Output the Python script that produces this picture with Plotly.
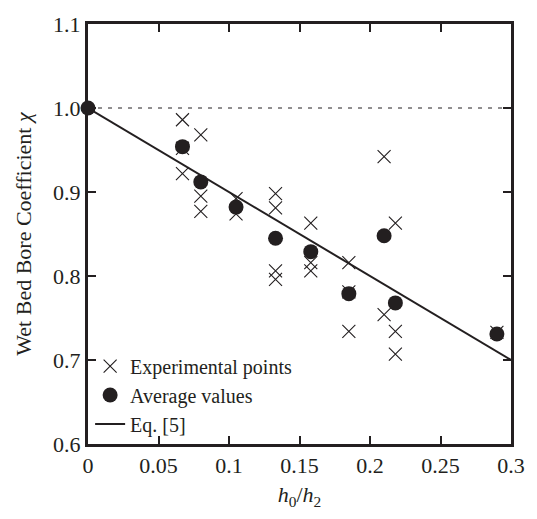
import plotly.graph_objects as go

# Experimental wet-bed bore coefficients grouped by h0/h2
x_exp = [0.067, 0.067, 0.067,
         0.080, 0.080, 0.080,
         0.105, 0.105,
         0.133, 0.133, 0.133, 0.133,
         0.158, 0.158, 0.158,
         0.185, 0.185, 0.185,
         0.210, 0.210,
         0.218, 0.218, 0.218,
         0.290]
chi_exp = [0.986, 0.952, 0.922,
           0.968, 0.895, 0.877,
           0.892, 0.874,
           0.898, 0.881, 0.806, 0.796,
           0.863, 0.816, 0.806,
           0.816, 0.781, 0.734,
           0.942, 0.754,
           0.863, 0.734, 0.707,
           0.733]

# Averages per group
x_avg = [0.0, 0.067, 0.080, 0.105, 0.133, 0.158, 0.185, 0.210, 0.218, 0.290]
chi_avg = [1.0, 0.954, 0.912, 0.882, 0.845, 0.829, 0.779, 0.848, 0.768, 0.731]

# Eq. [5]: chi = 1 - h0/h2
x_eq = [0.0, 0.3]
chi_eq = [1.0, 0.7]

x_ticks = [0, 0.05, 0.1, 0.15, 0.2, 0.25, 0.3]
y_ticks = [0.6, 0.7, 0.8, 0.9, 1.0, 1.1]

ink = "#231f20"
font = "Liberation Serif, Times New Roman, serif"

fig = go.Figure()

# reference level chi = 1
fig.add_trace(go.Scatter(
    x=[0, 0.3], y=[1.0, 1.0], mode="lines",
    line=dict(color=ink, width=1, dash="4px,6px"),
    showlegend=False, hoverinfo="skip"))

fig.add_trace(go.Scatter(
    x=x_exp, y=chi_exp, mode="markers", name="Experimental points",
    marker=dict(symbol="x-thin-open", size=13, color=ink,
                line=dict(color=ink, width=1.1))))

fig.add_trace(go.Scatter(
    x=x_avg, y=chi_avg, mode="markers", name="Average values",
    marker=dict(symbol="circle", size=15, color=ink, line=dict(width=0)),
    cliponaxis=False))

fig.add_trace(go.Scatter(
    x=x_eq, y=chi_eq, mode="lines", name="Eq. [5]",
    line=dict(color=ink, width=2)))

axis_common = dict(
    showline=True, linecolor=ink, linewidth=3, mirror="ticks",
    ticks="inside", ticklen=8, tickwidth=2, tickcolor=ink,
    showgrid=False, zeroline=False,
    tickfont=dict(family=font, size=22, color=ink),
)

fig.update_xaxes(range=[0, 0.3], tickvals=x_ticks,
                 ticktext=[f"{v:g}" for v in x_ticks],
                 title=dict(text="<i>h</i><sub>0</sub>/<i>h</i><sub>2</sub>",
                            font=dict(family=font, size=22, color=ink),
                            standoff=10),
                 **axis_common)
fig.update_yaxes(range=[0.6, 1.1], tickvals=y_ticks,
                 ticktext=[f"{v:.1f}" for v in y_ticks],
                 title=dict(text="Wet Bed Bore Coefficient <i>χ</i>",
                            font=dict(family=font, size=22, color=ink),
                            standoff=16),
                 **axis_common)

fig.update_layout(
    width=537, height=519,
    margin=dict(l=88, r=15, t=13, b=75),
    paper_bgcolor="white", plot_bgcolor="white",
    font=dict(family=font, size=20, color=ink),
    legend=dict(x=0.005, y=0.232, xanchor="left", yanchor="top",
                bgcolor="rgba(0,0,0,0)", font=dict(family=font, size=20, color=ink),
                itemwidth=30, tracegroupgap=0),
)

fig.write_html("out.html")
